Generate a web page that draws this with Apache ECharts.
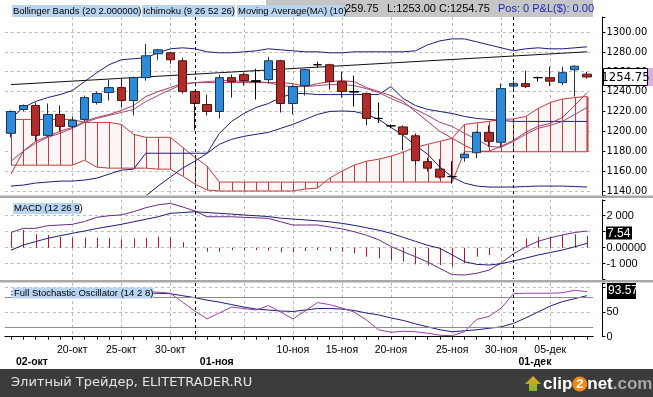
<!DOCTYPE html>
<html>
<head>
<meta charset="utf-8">
<script src="https://cdn.jsdelivr.net/npm/echarts@6.0.0/dist/echarts.min.js"></script>
<style>
html,body{margin:0;padding:0;background:#fff;}
#main{width:653px;height:397px;}
</style>
</head>
<body>
<div id="main"></div>
<script>
// даты (торговые сессии, включая воскресные)
var dates = ['14-окт','16-окт','17-окт','18-окт','19-окт','20-окт','21-окт','23-окт','24-окт','25-окт','26-окт','27-окт','28-окт','30-окт','31-окт',
  '01-ноя','02-ноя','03-ноя','04-ноя','06-ноя','07-ноя','08-ноя','09-ноя','10-ноя','11-ноя','13-ноя','14-ноя','15-ноя','16-ноя','17-ноя','18-ноя',
  '20-ноя','21-ноя','22-ноя','23-ноя','24-ноя','25-ноя','27-ноя','28-ноя','29-ноя','30-ноя',
  '01-дек','02-дек','04-дек','05-дек','06-дек','07-дек','08-дек'];
var labelIdx = [5, 9, 13, 23, 27, 31, 36, 40, 44];      // подписи дат
var vgridIdx = [5, 9, 13, 19, 23, 27, 31, 36, 40, 44];  // вертикальная сетка
var monthIdx = [0, 15, 41];
var monthLabels = ['02-окт', '01-ноя', '01-дек'];
var sepIdx = [15, 41];                                  // начало месяца

// свечи
var opens  = [1198,1222,1226,1196,1217,1205,1212,1229,1239,1244,1231,1254,1278,1279,1271,1240,1227,1220,1254,1257,1251,1252,1271,1228,1246,1267,1267,1250,1240,1238,1213,1205.5,1204.5,1195.5,1169.5,1162,1154.5,1173.5,1178.5,1199,1189,1245.5,1248,1254,1254,1249,1262,1257.5];
var closes = [1220,1226,1196,1217,1205,1211,1234,1238,1244,1231,1254,1276,1282,1272,1240,1228,1220,1254,1250,1251,1250,1271,1228,1245,1262,1267,1250,1240,1239.5,1213,1213,1205.5,1197,1170.5,1163,1154,1154.5,1177,1199,1190,1243,1248,1245,1254,1250.5,1259,1265.5,1254.75];
var lows   = [1194,1220,1190,1194,1200,1203,1210,1227,1231,1224,1216,1251,1272,1268,1238,1201,1216,1213,1234,1246,1232,1248,1219,1217,1236,1264,1242,1234,1225,1206,1208.5,1203,1181,1166,1159.5,1152.5,1147.5,1169.5,1173,1184.5,1184,1240,1243.5,1250,1245.5,1246.5,1235,1253];
var highs  = [1221,1227,1229,1228,1226,1215,1236,1240,1252,1253,1255,1288,1283,1280,1274,1241,1237,1257,1257,1259,1263,1275,1272,1247,1263,1270,1268,1260,1256,1239,1229,1207,1206,1198,1173.5,1172,1170,1179.5,1200,1206,1248,1251,1261,1255,1265,1265,1266.5,1259.75];
var dojiIdx = [20, 25, 28, 30, 31, 36, 43];

// Bollinger (20 2)
var bbUpper = [1213,1224,1230,1234,1237,1241,1250,1259,1267,1272,1273,1274,1279,1283,1284,1283,1280,1279,1279,1280,1281,1283,1282,1281,1280,1280,1279,1279,1280,1280,1280,1280,1280,1281,1287,1291,1293,1293,1290,1287,1284,1281,1283,1284,1283,1283,1284,1285];
var bbLower = [null,null,null,null,null,null,null,null,null,null,null,1135,1145,1154,1163,1170,1178,1187,1192,1195,1197,1199,1203,1207,1212,1217,1220,1220.5,1220,1217,1212,1204,1196,1186,1177,1164,1154,1148,1145,1144,1144,1144,1144.5,1145,1145,1145,1144.5,1144];
// Ichimoku (9 26 52 26)
var kijun   = [1145,1146,1148,1149,1150,1150,1151,1153,1157,1161,1162,1178,1178,1178,1178,1178,1178,1198,1210,1218,1224,1228,1234,1238,1238,1237,1237,1237,1237,1237,1237,1245,1233,1226,1222,1220,1218,1215,1213,1212,1211,1210,1210,1210,1210,1210,1210,1210];
var tenkan  = [1170,1180,1188,1194,1198,1203,1209,1213,1216,1219,1222,1230,1236,1242,1247,1249,1250,1251,1251,1250,1250,1249,1246,1245,1245,1246,1247,1247,1246,1243,1239,1233,1228,1222,1216,1209,1205,1198,1192,1185,1184,1190,1197,1203,1206,1210,1217,1224];
var spanA   = [1166,1166,1166,1166,1166,1166,1171,1164,1163,1163,1163,1163,1162,1162,1155,1147,1141,1140,1140,1140,1140,1140,1140,1140,1142,1143,1153,1160,1166,1170,1172,1175,1179,1184,1187,1190,1193,1207,1208.5,1210,1212,1212.5,1215,1223,1229,1232.5,1234,1235];
var spanB   = [1212,1212,1212,1212,1212,1212,1209,1209,1209,1207,1197,1194,1194,1194,1184,1174,1165,1149,1149,1149,1149,1149,1149,1149,1149,1149,1149,1149,1149,1149,1149,1149,1149,1149,1149,1149,1149,1179.5,1179.5,1179.5,1179.5,1179.5,1179.5,1179.5,1179.5,1179.5,1179.5,1179.5];
// Moving Average (10)
var ma10    = [1157,1180,1190,1195,1200,1204,1210,1214,1217,1221,1226,1235,1240,1244,1248,1249,1249,1249,1249,1249,1249,1249,1249,1248,1245,1248,1250,1251,1250,1244,1240,1236,1230,1220,1210,1200,1193,1186,1180,1180,1185,1191,1199,1205,1208,1214,1226,1239];
// линия тренда
var trend = [[0, 1247], [47, 1280]];

// MACD (12 26 9)
var macd   = [950,1212,1212,1375,1420,1462,1640,1900,2000,2050,2250,2500,2680,2775,2550,2294,1937,1937,1937,1900,1870,1837,1620,1419,1419,1419,1300,1180,1000,780,500,80,-250,-560,-900,-1300,-1680,-1706,-1600,-1400,-950,-380,50,400,620,800,950,1044];
var signal = [-150,169,380,590,750,900,1044,1200,1330,1462,1620,1780,1937,2150,2200,2250,2200,2150,2100,2044,2000,1950,1850,1794,1740,1680,1620,1525,1400,1250,1100,900,650,400,150,-38,-450,-875,-1040,-1081,-1000,-831,-650,-456,-300,-144,60,275];
var hist   = [960,1100,840,790,690,625,625,625,590,525,590,625,690,625,340,20,-250,-250,-165,-165,-150,-170,-290,-290,-206,-144,-206,-248,-352,-560,-665,-769,-873,-1040,-1123,-1081,-1185,-977,-560,-456,-165,60,585,690,690,794,835,752];

// Full Stochastic (14 2 8)
var stochK = [91,92,93,94,93,92,93,94,95,94,93,92,90,88,70,52,36,48,60,57,54,63,50,36,52,69,65,58,50,34,14,9,11,10,7,3,2,10,35,41,58,87,88,88,88,89,94,91];
var stochD = [85,84,84,85,86,86,87,87,88,88,88,88,88,87,83,79,74,70,65,60,56,54,52,51,54,57,57,56,53,48,44,38,33,26,20,14,10,12,14,17,20,27,38,50,62,71,77,83];

var NAVY = '#1e1e78';
var CLOUD = '#c63b3b';
var NARROW = "'Liberation Sans Narrow','Arial Narrow','DejaVu Sans Condensed',sans-serif";
var ARIAL = "'Liberation Sans',Arial,sans-serif";

var gl = 4.87, gw = 588.26;

var candles = dates.map(function (d, i) {
  var v = [opens[i], closes[i], lows[i], highs[i]];
  if (dojiIdx.indexOf(i) >= 0) {
    return {value: v, itemStyle: {color: '#000', color0: '#000', borderColor: '#000', borderColor0: '#000'}};
  }
  return v;
});
var cloudHatch = dates.map(function (d, i) { return [i, spanA[i], spanB[i]]; });
var cloudFill = [];
for (var i = 0; i < dates.length - 1; i++) {
  cloudFill.push([i, spanA[i], spanB[i], spanA[i + 1], spanB[i + 1]]);
}
var histData = dates.map(function (d, i) { return [i, hist[i]]; });

function vlines(grid, idx, color, z) {
  return {
    type: 'custom', xAxisIndex: grid, yAxisIndex: grid, z: z, silent: true,
    data: idx.map(function (k) { return [k, 0]; }),
    renderItem: function (params, api) {
      var x = Math.round(api.coord([api.value(0), 0])[0]) + 0.5;
      var cs = params.coordSys;
      return {type: 'line', shape: {x1: x, y1: cs.y, x2: x, y2: cs.y + cs.height},
        style: {stroke: color, lineWidth: 1, lineDash: [3, 3]}};
    }
  };
}
function lineS(grid, data, color, z) {
  return {type: 'line', xAxisIndex: grid, yAxisIndex: grid, data: data, showSymbol: false, symbol: 'none',
    z: z || 2, silent: true, lineStyle: {color: color, width: 1}};
}
function hiddenX(grid) {
  return {type: 'category', gridIndex: grid, data: dates, boundaryGap: true, show: false};
}

var myChart = echarts.init(document.getElementById('main'));
var option = {
  animation: false,
  backgroundColor: '#fff',
  textStyle: {fontFamily: ARIAL},
  grid: [
    {left: gl, width: gw, top: 17, height: 178, outerBoundsMode: 'none'},
    {left: gl, width: gw, top: 199.9, height: 79.1, outerBoundsMode: 'none'},
    {left: gl, width: gw, top: 283, height: 53.7, outerBoundsMode: 'none'},
    {left: gl, width: gw, top: 283, height: 53.7, outerBoundsMode: 'none'}
  ],
  xAxis: [
    hiddenX(0), hiddenX(1),
    {
      type: 'category', gridIndex: 2, data: dates, boundaryGap: true,
      axisLine: {show: true, lineStyle: {color: '#000', width: 1}},
      axisTick: {show: true, alignWithLabel: true, interval: 0, length: 3, lineStyle: {color: '#000'}},
      axisLabel: {interval: function (i) { return labelIdx.indexOf(i) >= 0; }, margin: 8,
        color: '#000', fontSize: 10.5, fontFamily: ARIAL},
      splitLine: {show: false}
    },
    {
      type: 'category', gridIndex: 3, data: dates, boundaryGap: true,
      axisLine: {show: false}, axisTick: {show: false}, splitLine: {show: false},
      axisLabel: {interval: function (i) { return monthIdx.indexOf(i) >= 0; },
        formatter: function (v, i) { var k = monthIdx.indexOf(i); return k >= 0 ? monthLabels[k] : ''; },
        align: 'left', padding: [0, 0, 0, 5], margin: 20, color: '#000', fontSize: 10.5, fontWeight: 'bold', fontFamily: ARIAL}
    }
  ],
  yAxis: [
    {
      type: 'value', gridIndex: 0, position: 'right', offset: 9.3, min: 1136, max: 1315,
      splitNumber: 9, minInterval: 20, maxInterval: 20,
      axisLine: {show: true, lineStyle: {color: '#000'}},
      axisTick: {show: true, length: 3, lineStyle: {color: '#000'}},
      axisLabel: {margin: 4, color: '#000', fontSize: 11, fontFamily: NARROW,
        formatter: function (v) { return (Math.abs(v % 20) < 0.01) ? v.toFixed(2) : ''; }},
      splitLine: {show: true, showMinLine: false, showMaxLine: false, lineStyle: {color: '#bcbcbc', type: [3, 3]}}
    },
    {
      type: 'value', gridIndex: 1, position: 'right', offset: 9.3, min: -1956, max: 2990,
      splitNumber: 5, minInterval: 1000, maxInterval: 1000,
      axisLine: {show: true, lineStyle: {color: '#000'}},
      axisTick: {show: true, length: 3, lineStyle: {color: '#000'}},
      axisLabel: {margin: 4, color: '#000', fontSize: 11, fontFamily: ARIAL,
        formatter: function (v) { return v === 2000 ? '2 000' : v === 0 ? '0.00000' : v === -1000 ? '-1 000' : ''; }},
      splitLine: {show: true, showMinLine: false, showMaxLine: false, lineStyle: {color: '#bcbcbc', type: [3, 3]}}
    },
    {
      type: 'value', gridIndex: 2, position: 'right', offset: 9.3, min: 0, max: 108.7,
      splitNumber: 2, minInterval: 50, maxInterval: 50,
      axisLine: {show: true, lineStyle: {color: '#000'}},
      axisTick: {show: true, length: 3, lineStyle: {color: '#000'}},
      axisLabel: {margin: 4, color: '#000', fontSize: 11, fontFamily: ARIAL,
        formatter: function (v) { return v === 50 ? '50' : v === 0 ? '0' : ''; }},
      splitLine: {show: true, showMinLine: false, showMaxLine: false, lineStyle: {color: '#bcbcbc', type: [3, 3]}}
    },
    {type: 'value', gridIndex: 3, show: false, min: 0, max: 1}
  ],
  series: [
    vlines(0, vgridIdx, '#bcbcbc', 0),
    vlines(1, vgridIdx, '#bcbcbc', 0),
    vlines(2, vgridIdx, '#bcbcbc', 0),
    {
      type: 'custom', xAxisIndex: 0, yAxisIndex: 0, z: 1, silent: true, data: cloudFill,
      renderItem: function (params, api) {
        var i = api.value(0);
        return {type: 'polygon', shape: {points: [
          api.coord([i, api.value(1)]), api.coord([i + 1, api.value(3)]),
          api.coord([i + 1, api.value(4)]), api.coord([i, api.value(2)])]},
          style: {fill: '#fdf6f6'}};
      }
    },
    {
      type: 'custom', xAxisIndex: 0, yAxisIndex: 0, z: 2, silent: true, data: cloudHatch,
      renderItem: function (params, api) {
        var i = api.value(0);
        var p1 = api.coord([i, api.value(1)]), p2 = api.coord([i, api.value(2)]);
        var x = Math.round(p1[0]) + 0.5;
        return {type: 'line', shape: {x1: x, y1: p1[1], x2: x, y2: p2[1]},
          style: {stroke: CLOUD, lineWidth: i === dates.length - 1 ? 2 : 1}};
      }
    },
    lineS(0, spanA, CLOUD), lineS(0, spanB, CLOUD),
    lineS(0, bbUpper, NAVY), lineS(0, bbLower, NAVY), lineS(0, kijun, NAVY),
    lineS(0, ma10, '#b8384a'), lineS(0, tenkan, '#9c4a86'),
    lineS(0, trend, '#111'),
    {
      type: 'candlestick', xAxisIndex: 0, yAxisIndex: 0, z: 4, barWidth: 9, silent: true,
      data: candles,
      itemStyle: {color: '#2d8ad8', color0: '#b22b2b', borderColor: '#1b3552', borderColor0: '#4a1414', borderWidth: 1}
    },
    vlines(0, sepIdx, '#000', 5),
    vlines(1, sepIdx, '#000', 5),
    vlines(2, sepIdx, '#000', 5),
    {
      type: 'custom', xAxisIndex: 1, yAxisIndex: 1, z: 2, silent: true, data: histData,
      renderItem: function (params, api) {
        var p0 = api.coord([api.value(0), 0]), p1 = api.coord([api.value(0), api.value(1)]);
        var x = Math.round(p0[0]) + 0.5;
        return {type: 'line', shape: {x1: x, y1: p0[1], x2: x, y2: p1[1]},
          style: {stroke: '#c0142e', lineWidth: 1}};
      }
    },
    lineS(1, macd, '#6b2a80', 3), lineS(1, signal, NAVY, 3),
    {
      type: 'line', xAxisIndex: 2, yAxisIndex: 2, data: stochD, showSymbol: false, symbol: 'none', silent: true,
      lineStyle: {color: NAVY, width: 1}, z: 3,
      markLine: {silent: true, symbol: 'none', label: {show: false}, animation: false,
        lineStyle: {color: '#8c8c8c', type: 'solid', width: 1},
        data: [{yAxis: 80}, {yAxis: 20}]}
    },
    lineS(2, stochK, '#9c3fb0', 3)
  ],
  graphic: {elements: [
    // шапка
    {type: 'rect', z: 100, silent: true, shape: {x: 266, y: 0, width: 327, height: 17}, style: {fill: '#c6c6c6'}},
    {type: 'rect', z: 100, silent: true, shape: {x: 12, y: 5, width: 128, height: 12}, style: {fill: '#b8d4f0'}},
    {type: 'rect', z: 100, silent: true, shape: {x: 142, y: 5, width: 93, height: 12}, style: {fill: '#b8d4f0'}},
    {type: 'rect', z: 100, silent: true, shape: {x: 237, y: 5, width: 108, height: 12}, style: {fill: '#b8d4f0'}},
    {type: 'text', z: 101, silent: true, x: 13, y: 11, style: {text: 'Bollinger Bands (20 2.000000)', fill: '#000', font: '9.5px ' + ARIAL, verticalAlign: 'middle'}},
    {type: 'text', z: 101, silent: true, x: 143, y: 11, style: {text: 'Ichimoku (9 26 52 26)', fill: '#000', font: '9.5px ' + ARIAL, verticalAlign: 'middle'}},
    {type: 'text', z: 101, silent: true, x: 238, y: 11, style: {text: 'Moving Average(MA) (10)', fill: '#000', font: '9.5px ' + ARIAL, verticalAlign: 'middle'}},
    {type: 'text', z: 101, silent: true, x: 345, y: 9, style: {text: '259.75', fill: '#000', font: '11px ' + ARIAL, verticalAlign: 'middle'}},
    {type: 'text', z: 101, silent: true, x: 387, y: 9, style: {text: 'L:1253.00', fill: '#000', font: '11px ' + ARIAL, verticalAlign: 'middle'}},
    {type: 'text', z: 101, silent: true, x: 439, y: 9, style: {text: 'C:1254.75', fill: '#000', font: '11px ' + ARIAL, verticalAlign: 'middle'}},
    {type: 'text', z: 101, silent: true, x: 498, y: 9, style: {text: 'Pos: 0 P&L($): 0.00', fill: '#2323b8', font: '11px ' + ARIAL, verticalAlign: 'middle'}},
    // разделители панелей
    {type: 'rect', z: 100, silent: true, shape: {x: 0, y: 195.5, width: 653, height: 2.5}, style: {fill: '#a9a9a9'}},
    {type: 'rect', z: 100, silent: true, shape: {x: 0, y: 280, width: 653, height: 2.5}, style: {fill: '#a9a9a9'}},
    // подписи индикаторов
    {type: 'rect', z: 100, silent: true, shape: {x: 13, y: 203, width: 67, height: 11}, style: {fill: '#b8d4f0'}},
    {type: 'text', z: 101, silent: true, x: 14, y: 208.5, style: {text: 'MACD (12 26 9)', fill: '#000', font: '9.5px ' + ARIAL, verticalAlign: 'middle'}},
    {type: 'rect', z: 100, silent: true, shape: {x: 12.5, y: 287.5, width: 141, height: 11}, style: {fill: '#b8d4f0'}},
    {type: 'text', z: 101, silent: true, x: 14, y: 293, style: {text: 'Full Stochastic Oscillator (14 2 8)', fill: '#000', font: '9.5px ' + ARIAL, verticalAlign: 'middle'}},
    // метки последних значений
    {type: 'rect', z: 100, silent: true, shape: {x: 603.5, y: 68.5, width: 44, height: 17}, style: {fill: '#fff', stroke: '#000', lineWidth: 1}},
    {type: 'rect', z: 100, silent: true, shape: {x: 648, y: 68, width: 5, height: 18}, style: {fill: '#d6b0de'}},
    {type: 'text', z: 101, silent: true, x: 625.5, y: 77.5, style: {text: '1254.75', fill: '#000', font: '13px ' + NARROW, align: 'center', verticalAlign: 'middle'}},
    {type: 'rect', z: 100, silent: true, shape: {x: 606, y: 226.5, width: 26, height: 13}, style: {fill: '#000'}},
    {type: 'text', z: 101, silent: true, x: 607, y: 233.5, style: {text: '7.54', fill: '#fff', font: '12px ' + ARIAL, verticalAlign: 'middle'}},
    {type: 'rect', z: 100, silent: true, shape: {x: 607, y: 283, width: 29, height: 16}, style: {fill: '#000'}},
    {type: 'text', z: 101, silent: true, x: 608, y: 291, style: {text: '93.57', fill: '#fff', font: '12px ' + ARIAL, verticalAlign: 'middle'}},
    // подвал
    {type: 'rect', z: 100, silent: true, shape: {x: 0, y: 369, width: 653, height: 28}, style: {fill: '#3c3c3c'}},
    {type: 'text', z: 101, silent: true, x: 11, y: 383, style: {text: 'Элитный Трейдер, ELITETRADER.RU', fill: '#e4e4e4', font: '13px "DejaVu Sans",sans-serif', verticalAlign: 'middle'}},
    {type: 'polygon', z: 101, silent: true, shape: {points: [[533, 376], [541, 384], [537, 384], [537, 391], [529, 391], [529, 384], [525, 384]]},
      style: {fill: new echarts.graphic.LinearGradient(0, 0, 0, 1, [{offset: 0, color: '#f0a020'}, {offset: 1, color: '#7cb82f'}])}},
    {type: 'text', z: 101, silent: true, x: 543, y: 384, style: {
      text: '{a|clip}{b|2}{a|net}{c|.com}', verticalAlign: 'middle',
      rich: {
        a: {fill: '#fff', font: 'bold 17px ' + ARIAL},
        b: {fill: '#fff', font: 'bold 13px ' + ARIAL, backgroundColor: '#f08a14', borderRadius: 8, width: 15, height: 15, align: 'center'},
        c: {fill: '#a6a6a6', font: 'bold 17px ' + ARIAL}
      }}}
  ]}
};
myChart.setOption(option);
</script>
</body>
</html>
